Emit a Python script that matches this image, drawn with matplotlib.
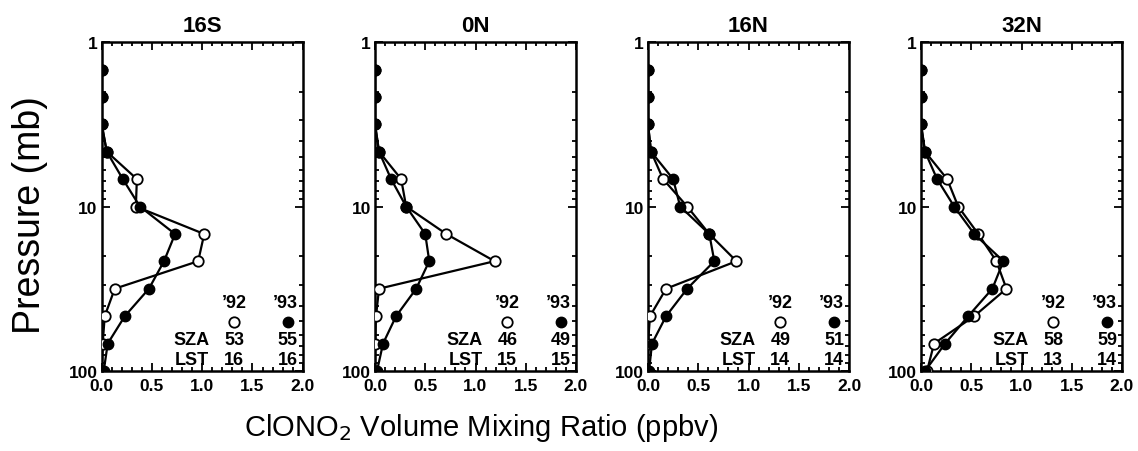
import matplotlib
matplotlib.use("Agg")
import matplotlib.pyplot as plt
from matplotlib.ticker import MultipleLocator, FixedLocator, NullFormatter, LogLocator
import numpy as np

plt.rcParams['font.family'] = ['Liberation Sans', 'DejaVu Sans']

pressure = [1.47, 2.15, 3.16, 4.64, 6.81, 10.0, 14.7, 21.5, 31.6, 46.4, 68.1, 100.0]

titles = ["16S", "0N", "16N", "32N"]

v92_16S = [0.0, 0.0, 0.0, 0.05, 0.35, 0.34, 1.02, 0.96, 0.13, 0.03, 0.01, 0.0]
v93_16S = [0.0, 0.0, 0.0, 0.05, 0.21, 0.38, 0.73, 0.62, 0.47, 0.23, 0.06, 0.02]

v92_0N = [0.0, 0.0, 0.0, 0.04, 0.26, 0.31, 0.71, 1.19, 0.04, 0.01, 0.0, 0.0]
v93_0N = [0.0, 0.0, 0.0, 0.04, 0.16, 0.31, 0.50, 0.54, 0.41, 0.21, 0.08, 0.02]

v92_16N = [0.0, 0.0, 0.0, 0.03, 0.15, 0.39, 0.61, 0.88, 0.18, 0.02, 0.0, 0.0]
v93_16N = [0.0, 0.0, 0.0, 0.03, 0.25, 0.32, 0.61, 0.66, 0.39, 0.18, 0.04, 0.01]

v92_32N = [0.0, 0.0, 0.0, 0.04, 0.26, 0.37, 0.57, 0.75, 0.85, 0.53, 0.13, 0.06]
v93_32N = [0.0, 0.0, 0.0, 0.04, 0.16, 0.33, 0.53, 0.82, 0.71, 0.47, 0.24, 0.04]

sza92 = ["53", "46", "49", "58"]
sza93 = ["55", "49", "51", "59"]
lst92 = ["16", "15", "14", "13"]
lst93 = ["16", "15", "14", "14"]

series92 = [v92_16S, v92_0N, v92_16N, v92_32N]
series93 = [v93_16S, v93_0N, v93_16N, v93_32N]

xticks = [0.0, 0.5, 1.0, 1.5, 2.0]
xticklabels = ["0.0", "0.5", "1.0", "1.5", "2.0"]

W, H = 1138, 452
fig = plt.figure(figsize=(W / 100, H / 100), dpi=100)

lefts = [101.7, 375, 648, 921]
axw = 201
top_px, bot_px = 43, 372

for i in range(4):
    ax = fig.add_axes([lefts[i] / W, (H - bot_px) / H, axw / W, (bot_px - top_px) / H])
    ax.set_yscale('log')
    ax.set_ylim(100, 1)
    ax.set_xlim(0, 2.0)
    ax.plot(series92[i], pressure, '-', color='black', lw=1.6, marker='o', ms=7.5,
            mfc='white', mec='black', mew=1.3, zorder=3)
    ax.plot(series93[i], pressure, '-', color='black', lw=1.6, marker='o', ms=7.5,
            mfc='black', mec='black', zorder=4)

    for s in ax.spines.values():
        s.set_linewidth(1.8)
    ax.set_xticks(xticks)
    ax.set_xticklabels(xticklabels)
    ax.xaxis.set_minor_locator(MultipleLocator(0.1))
    ax.yaxis.set_major_locator(FixedLocator([1, 10, 100]))
    ax.set_yticklabels(["1", "10", "100"])
    ax.yaxis.set_minor_locator(LogLocator(base=10, subs=np.arange(2, 10)))
    ax.yaxis.set_minor_formatter(NullFormatter())
    ax.tick_params(which='both', direction='in', top=True, right=True, width=1.3)
    ax.tick_params(which='major', length=6, labelsize=12.5, pad=5)
    ax.tick_params(which='minor', length=3)
    for lab in ax.get_xticklabels() + ax.get_yticklabels():
        lab.set_fontweight('bold')
    ax.tick_params(axis='y', pad=3)

    ax.set_title(titles[i], fontsize=16, fontweight='bold', pad=8)

    tk = dict(transform=ax.transAxes, fontsize=13, fontweight='bold', va='center')
    ax.text(0.658, 0.209, "\u201992", ha='center', **tk)
    ax.text(0.975, 0.209, "\u201993", ha='right', **tk)
    ax.plot([0.658], [0.148], 'o', ms=7.5, mfc='white', mec='black', mew=1.3,
            transform=ax.transAxes, clip_on=False)
    ax.plot([0.925], [0.148], 'o', ms=7.5, mfc='black', mec='black',
            transform=ax.transAxes, clip_on=False)
    ax.text(0.535, 0.097, "SZA", ha='right', **tk)
    ax.text(0.658, 0.097, sza92[i], ha='center', **tk)
    ax.text(0.975, 0.097, sza93[i], ha='right', **tk)
    ax.text(0.535, 0.036, "LST", ha='right', **tk)
    ax.text(0.658, 0.036, lst92[i], ha='center', **tk)
    ax.text(0.975, 0.036, lst93[i], ha='right', **tk)

fig.text(481 / W, 1 - 428 / H, r"ClONO$_2$ Volume Mixing Ratio (ppbv)",
         ha='center', va='center', fontsize=21)
fig.text(30 / W, 1 - 215 / H, "Pressure (mb)", rotation=90,
         ha='center', va='center', fontsize=27)

fig.savefig("out.png", dpi=100)
